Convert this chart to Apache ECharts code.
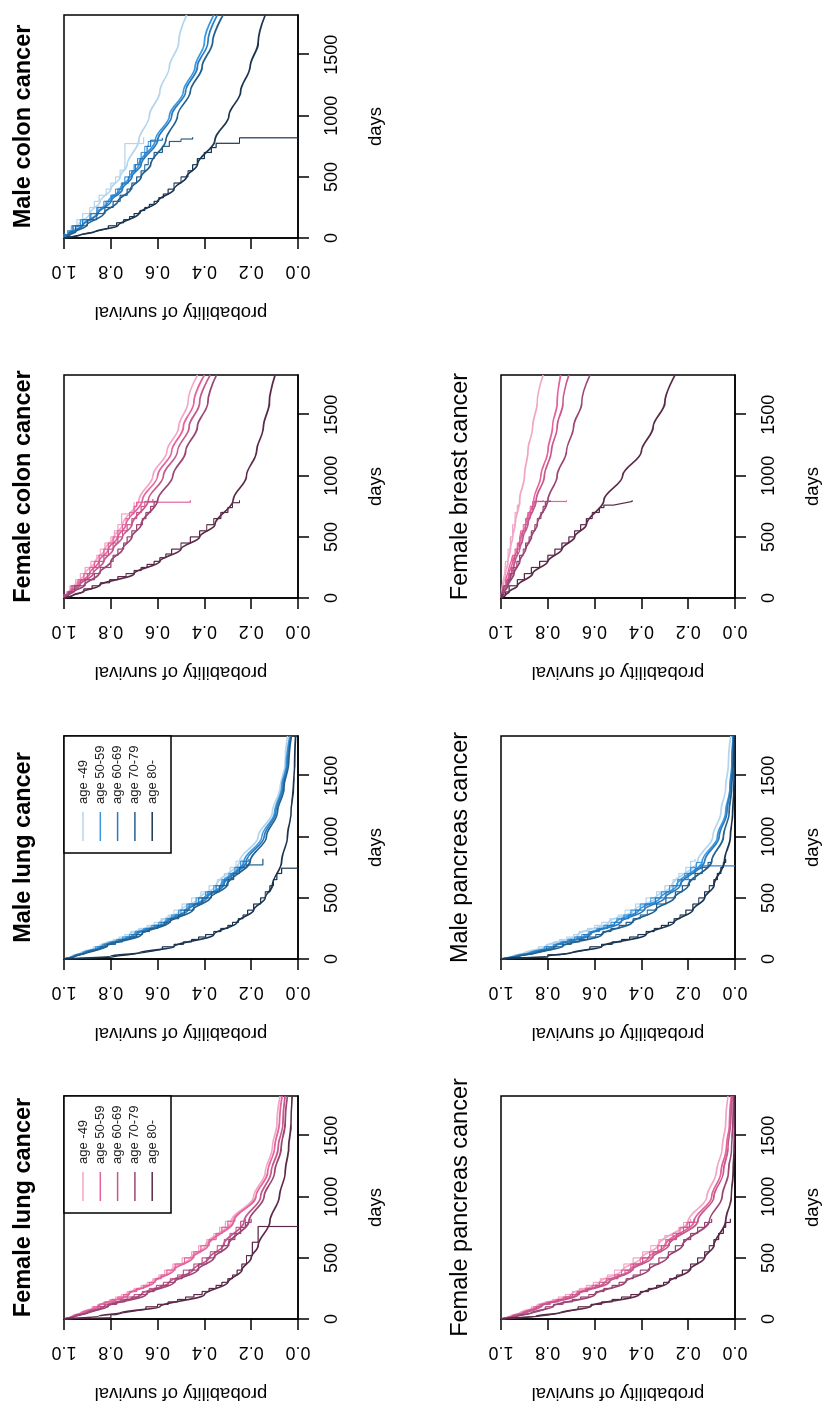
<!DOCTYPE html>
<html><head><meta charset="utf-8">
<script src="https://cdn.jsdelivr.net/npm/echarts@6.0.0/dist/echarts.min.js"></script>
<style>
html,body{margin:0;padding:0;background:#fff;overflow:hidden;width:825px;height:1408px;}
#wrap{position:absolute;left:0;top:0;width:1408px;height:825px;transform-origin:0 0;transform:translateY(1408px) rotate(-90deg);}
#chart{width:1408px;height:825px;background:#fff;}
</style></head><body>
<div id="wrap"><div id="chart"></div></div>
<script>
// ---------- data ----------
const AGE_LABELS = ['age -49','age 50-59','age 60-69','age 70-79','age 80-'];
const DAY_TICKS = [0, 500, 1000, 1500];
const DAYS_FIT = [0,25,50,100,200,300,400,500,600,800,1000,1200,1400,1600,1825];

// fitted survival curves (values at DAYS_FIT), one row per age group
const femaleLungFit = [
 [1,.965,.93,.86,.735,.625,.54,.46,.395,.285,.19,.14,.11,.09,.077],
 [1,.96,.925,.855,.725,.615,.53,.45,.385,.275,.18,.13,.10,.08,.068],
 [1,.955,.91,.83,.67,.55,.45,.38,.32,.23,.16,.115,.085,.065,.055],
 [1,.95,.90,.815,.65,.53,.43,.36,.30,.21,.145,.10,.072,.055,.045],
 [1,.85,.76,.59,.40,.30,.24,.20,.17,.12,.08,.055,.04,.03,.025]
];
const maleLungFit = [
 [1,.965,.93,.85,.72,.59,.50,.42,.35,.25,.17,.11,.077,.055,.045],
 [1,.96,.92,.84,.70,.57,.48,.40,.33,.23,.155,.10,.07,.05,.035],
 [1,.955,.915,.83,.69,.56,.47,.39,.32,.22,.145,.095,.065,.045,.03],
 [1,.95,.905,.82,.67,.55,.45,.375,.305,.205,.135,.088,.06,.04,.028],
 [1,.80,.68,.53,.36,.26,.19,.14,.11,.07,.045,.03,.02,.014,.01]
];
const femaleColonFit = [
 [1,.99,.98,.955,.91,.865,.825,.785,.75,.68,.62,.56,.51,.47,.43],
 [1,.99,.975,.945,.89,.85,.81,.77,.735,.665,.60,.54,.49,.445,.40],
 [1,.985,.97,.935,.875,.83,.79,.75,.71,.64,.575,.515,.465,.42,.375],
 [1,.98,.96,.915,.85,.80,.75,.71,.67,.60,.535,.48,.43,.385,.348],
 [1,.96,.92,.85,.70,.59,.50,.42,.355,.277,.22,.177,.148,.122,.098]
];
const maleColonFit = [
 [1,.985,.97,.94,.89,.845,.80,.76,.73,.68,.635,.59,.55,.51,.476],
 [1,.98,.96,.925,.86,.81,.76,.72,.68,.61,.55,.49,.44,.40,.36],
 [1,.98,.96,.92,.855,.80,.75,.71,.67,.60,.54,.48,.43,.385,.345],
 [1,.975,.95,.905,.83,.77,.715,.67,.63,.565,.515,.46,.41,.365,.32],
 [1,.93,.87,.77,.68,.60,.53,.476,.43,.355,.295,.245,.205,.17,.14]
];
const femalePancreasFit = [
 [1,.96,.92,.85,.70,.58,.48,.40,.33,.20,.12,.08,.055,.04,.03],
 [1,.95,.91,.84,.68,.555,.45,.37,.30,.175,.10,.06,.037,.024,.016],
 [1,.95,.90,.83,.67,.54,.44,.355,.285,.16,.09,.05,.03,.019,.012],
 [1,.93,.87,.78,.60,.47,.37,.29,.225,.11,.055,.028,.015,.009,.006],
 [1,.85,.75,.62,.41,.285,.195,.13,.09,.04,.016,.008,.004,.002,.001]
];
const malePancreasFit = [
 [1,.95,.90,.81,.67,.54,.43,.34,.27,.16,.095,.06,.04,.028,.018],
 [1,.94,.88,.78,.63,.51,.41,.32,.25,.14,.075,.04,.022,.013,.008],
 [1,.93,.87,.77,.62,.49,.39,.30,.235,.13,.068,.035,.02,.012,.007],
 [1,.92,.85,.74,.57,.44,.34,.26,.20,.10,.05,.025,.014,.008,.005],
 [1,.80,.70,.57,.38,.26,.18,.13,.09,.045,.02,.01,.005,.003,.002]
];
const femaleBreastFit = [
 [1,.998,.995,.99,.98,.97,.96,.95,.94,.92,.90,.885,.865,.845,.82],
 [1,.995,.99,.98,.965,.95,.93,.915,.895,.86,.83,.80,.78,.76,.745],
 [1,.995,.99,.975,.955,.94,.92,.905,.885,.85,.815,.785,.76,.735,.71],
 [1,.993,.985,.97,.945,.92,.895,.87,.845,.80,.76,.72,.69,.655,.62],
 [1,.98,.965,.93,.865,.80,.74,.685,.635,.56,.48,.40,.35,.30,.256]
];

// Kaplan-Meier step curves: [day, survival] pairs
const femaleLungKM = [
 [[0,1],[10,.982],[20,.968],[35,.945],[50,.925],[65,.90],[80,.88],[100,.855],[120,.83],[140,.805],[160,.78],[180,.755],[200,.73],[225,.70],[250,.67],[275,.645],[300,.62],[330,.595],[360,.57],[400,.535],[450,.495],[500,.455],[550,.425],[600,.39],[650,.36],[700,.335],[750,.31],[800,.285],[820,.285]],
 [[0,1],[10,.98],[20,.965],[35,.94],[50,.92],[65,.895],[80,.875],[100,.85],[120,.825],[140,.795],[160,.77],[180,.745],[200,.72],[225,.69],[250,.66],[275,.635],[300,.61],[330,.585],[360,.56],[400,.525],[450,.485],[500,.445],[550,.415],[600,.38],[650,.35],[700,.325],[750,.30],[800,.27],[820,.27]],
 [[0,1],[10,.978],[20,.96],[35,.93],[50,.905],[65,.88],[80,.855],[100,.825],[120,.79],[140,.76],[160,.73],[180,.70],[200,.665],[225,.635],[250,.605],[275,.575],[300,.545],[330,.515],[360,.49],[400,.445],[450,.41],[500,.375],[550,.345],[600,.315],[650,.29],[700,.265],[750,.245],[800,.225],[820,.225]],
 [[0,1],[10,.975],[20,.955],[35,.925],[50,.895],[65,.87],[80,.845],[100,.81],[120,.775],[140,.74],[160,.71],[180,.68],[200,.645],[225,.615],[250,.585],[275,.555],[300,.525],[330,.495],[360,.465],[400,.425],[450,.39],[500,.355],[550,.325],[600,.295],[650,.27],[700,.245],[750,.225],[790,.20],[820,.20]],
 [[0,1],[5,.95],[10,.80],[35,.78],[50,.75],[65,.70],[80,.65],[100,.60],[120,.555],[140,.515],[160,.48],[180,.445],[200,.41],[225,.38],[250,.35],[275,.325],[300,.30],[330,.28],[360,.26],[400,.24],[450,.22],[519,.195],[628,.17],[757,0]]
];
const maleLungKM = [
 [[0,1],[10,.982],[20,.968],[35,.945],[50,.925],[65,.90],[80,.875],[100,.845],[120,.815],[140,.79],[160,.765],[180,.74],[200,.715],[225,.68],[250,.645],[275,.615],[300,.585],[330,.555],[360,.53],[400,.495],[450,.455],[500,.415],[550,.38],[600,.345],[650,.315],[700,.29],[750,.265],[800,.24],[820,.24]],
 [[0,1],[10,.98],[20,.965],[35,.94],[50,.915],[65,.89],[80,.865],[100,.835],[120,.805],[140,.775],[160,.75],[180,.72],[200,.695],[225,.66],[250,.625],[275,.595],[300,.565],[330,.54],[360,.51],[400,.475],[450,.435],[500,.395],[550,.36],[600,.325],[650,.295],[700,.27],[750,.245],[800,.22],[820,.22]],
 [[0,1],[10,.978],[20,.96],[35,.935],[50,.91],[65,.88],[80,.855],[100,.825],[120,.795],[140,.765],[160,.735],[180,.71],[200,.685],[225,.65],[250,.615],[275,.585],[300,.555],[330,.525],[360,.50],[400,.465],[450,.425],[500,.385],[550,.35],[600,.315],[650,.285],[700,.26],[750,.235],[800,.21],[820,.21]],
 [[0,1],[10,.975],[20,.955],[35,.93],[50,.90],[65,.87],[80,.845],[100,.815],[120,.78],[140,.75],[160,.72],[180,.69],[200,.665],[225,.635],[250,.60],[275,.57],[300,.545],[330,.51],[360,.485],[400,.445],[450,.41],[500,.37],[550,.335],[600,.30],[650,.275],[700,.25],[750,.22],[770,.15],[820,.15]],
 [[0,1],[7,.90],[14,.80],[25,.77],[35,.72],[50,.67],[65,.62],[80,.58],[100,.53],[120,.49],[140,.455],[160,.425],[180,.395],[200,.36],[225,.33],[250,.30],[275,.28],[300,.255],[330,.235],[360,.215],[400,.19],[450,.16],[500,.14],[550,.12],[600,.105],[650,.09],[700,.07],[743,0]]
];
const femaleColonKM = [
 [[0,1],[25,.99],[50,.975],[100,.95],[150,.93],[200,.91],[250,.885],[300,.86],[350,.845],[400,.825],[450,.80],[500,.785],[550,.77],[600,.754],[688,.70],[784,.70]],
 [[0,1],[25,.985],[50,.97],[100,.94],[150,.915],[200,.89],[250,.87],[300,.85],[350,.83],[400,.81],[450,.79],[500,.77],[550,.75],[600,.735],[650,.72],[700,.70],[750,.69],[784,.46],[800,.46]],
 [[0,1],[25,.985],[50,.965],[100,.93],[150,.90],[200,.875],[250,.85],[300,.83],[350,.81],[400,.79],[450,.77],[500,.75],[550,.73],[600,.71],[650,.69],[700,.67],[750,.655],[790,.62],[810,.62]],
 [[0,1],[25,.98],[50,.955],[100,.91],[150,.87],[200,.845],[250,.80],[300,.79],[350,.77],[400,.745],[450,.73],[500,.71],[550,.69],[600,.665],[650,.65],[700,.63],[750,.615],[790,.60],[810,.60]],
 [[0,1],[10,.98],[20,.965],[35,.94],[50,.915],[75,.88],[100,.845],[125,.805],[150,.77],[175,.735],[200,.70],[225,.67],[250,.645],[275,.615],[300,.59],[330,.565],[360,.54],[400,.50],[450,.46],[500,.42],[550,.39],[600,.36],[650,.33],[700,.30],[740,.28],[780,.25],[800,.25]]
];
const maleColonKM = [
 [[0,1],[30,.985],[60,.97],[100,.945],[150,.92],[200,.89],[250,.87],[300,.85],[350,.82],[400,.80],[450,.78],[500,.76],[555,.74],[773,.66],[825,.66]],
 [[0,1],[25,.985],[60,.96],[100,.93],[150,.89],[200,.855],[250,.83],[300,.80],[350,.78],[400,.755],[450,.74],[500,.72],[550,.70],[600,.685],[650,.67],[700,.655],[750,.64],[790,.60],[820,.60]],
 [[0,1],[25,.98],[50,.965],[100,.92],[150,.885],[200,.86],[250,.82],[300,.795],[350,.77],[400,.75],[450,.725],[500,.71],[550,.695],[600,.675],[650,.655],[700,.645],[750,.63],[800,.58],[820,.58]],
 [[0,1],[25,.975],[50,.95],[100,.90],[150,.86],[200,.825],[250,.79],[300,.76],[350,.73],[400,.71],[450,.69],[500,.67],[550,.655],[600,.64],[650,.615],[700,.58],[750,.55],[790,.50],[810,.45],[825,.45]],
 [[0,1],[10,.97],[20,.945],[35,.91],[50,.87],[65,.84],[80,.81],[100,.775],[125,.745],[150,.72],[175,.70],[200,.675],[225,.655],[250,.635],[275,.615],[300,.595],[330,.575],[360,.555],[400,.53],[450,.50],[500,.47],[550,.45],[600,.43],[650,.40],[700,.37],[740,.35],[775,.25],[820,0]]
];
const femalePancreasKM = [
 [[0,1],[10,.982],[20,.965],[35,.94],[50,.915],[65,.89],[80,.87],[100,.845],[120,.81],[140,.78],[160,.755],[180,.725],[200,.695],[225,.665],[250,.635],[275,.605],[300,.575],[330,.545],[360,.515],[400,.475],[450,.435],[500,.395],[550,.36],[600,.325],[650,.30],[683,.24],[750,.22],[790,.19],[820,.19]],
 [[0,1],[10,.978],[20,.958],[35,.93],[50,.905],[65,.88],[80,.86],[100,.835],[120,.80],[140,.765],[160,.735],[180,.705],[200,.675],[225,.64],[250,.61],[275,.58],[300,.55],[330,.515],[360,.485],[400,.445],[450,.405],[500,.365],[550,.33],[600,.295],[650,.265],[700,.235],[750,.205],[792,.157],[820,.157]],
 [[0,1],[10,.978],[20,.955],[35,.925],[50,.895],[65,.87],[80,.85],[100,.825],[120,.79],[140,.755],[160,.725],[180,.695],[200,.665],[225,.63],[250,.595],[275,.565],[300,.535],[330,.50],[360,.47],[400,.435],[450,.395],[500,.35],[550,.315],[600,.28],[650,.25],[700,.22],[750,.195],[790,.175],[820,.175]],
 [[0,1],[10,.97],[20,.94],[35,.90],[50,.865],[65,.835],[80,.81],[100,.775],[120,.735],[140,.695],[160,.66],[180,.625],[200,.595],[225,.56],[250,.525],[275,.495],[300,.465],[330,.435],[360,.405],[400,.365],[450,.325],[500,.285],[550,.255],[600,.22],[650,.19],[700,.16],[750,.13],[790,.10],[820,.10]],
 [[0,1],[10,.95],[20,.85],[35,.79],[50,.745],[65,.71],[80,.67],[100,.615],[120,.57],[140,.525],[160,.485],[180,.445],[200,.405],[225,.37],[250,.335],[275,.305],[300,.28],[330,.25],[360,.225],[400,.19],[450,.16],[500,.13],[550,.11],[600,.09],[650,.07],[700,.05],[750,.04],[790,.02],[820,.02]]
];
const malePancreasKM = [
 [[0,1],[10,.98],[20,.958],[35,.925],[50,.895],[65,.865],[80,.84],[100,.805],[120,.775],[140,.75],[160,.72],[180,.69],[200,.665],[225,.63],[250,.60],[275,.57],[300,.535],[330,.50],[360,.47],[400,.425],[450,.38],[500,.335],[550,.30],[600,.265],[650,.24],[700,.21],[750,.19],[800,.17],[820,.17]],
 [[0,1],[10,.975],[20,.95],[35,.91],[50,.875],[65,.845],[80,.815],[100,.775],[120,.745],[140,.715],[160,.685],[180,.655],[200,.625],[225,.59],[250,.56],[275,.53],[300,.505],[330,.475],[360,.445],[400,.405],[450,.36],[500,.315],[550,.28],[600,.245],[650,.215],[700,.19],[750,.165],[790,.14],[820,.14]],
 [[0,1],[10,.97],[20,.94],[35,.90],[50,.865],[65,.835],[80,.805],[100,.765],[120,.735],[140,.705],[160,.675],[180,.645],[200,.615],[225,.58],[250,.545],[275,.515],[300,.485],[330,.455],[360,.425],[400,.385],[450,.34],[500,.295],[550,.265],[600,.23],[650,.20],[700,.17],[740,.14],[762,0]],
 [[0,1],[10,.965],[20,.935],[35,.89],[50,.845],[65,.81],[80,.775],[100,.735],[120,.70],[140,.665],[160,.63],[180,.595],[200,.565],[225,.53],[250,.495],[275,.465],[300,.435],[330,.405],[360,.375],[400,.335],[450,.295],[500,.255],[550,.225],[600,.195],[650,.17],[700,.14],[750,.115],[790,.10],[820,.10]],
 [[0,1],[10,.95],[15,.80],[35,.75],[50,.70],[65,.66],[80,.62],[100,.57],[120,.525],[140,.485],[160,.45],[180,.415],[200,.38],[225,.345],[250,.315],[275,.285],[300,.26],[330,.235],[360,.21],[400,.18],[450,.155],[500,.13],[550,.11],[600,.09],[650,.075],[700,.06],[750,.05],[790,.04],[820,.04]]
];
const femaleBreastKM = [
 [[0,1],[50,.995],[100,.99],[150,.985],[200,.98],[300,.97],[400,.96],[500,.95],[600,.94],[700,.93],[760,.92],[800,.92]],
 [[0,1],[25,.995],[50,.99],[100,.98],[150,.972],[200,.965],[250,.957],[300,.95],[350,.94],[400,.93],[450,.92],[500,.915],[550,.905],[600,.895],[650,.885],[700,.875],[750,.865],[790,.72],[800,.72]],
 [[0,1],[25,.995],[50,.99],[100,.975],[150,.965],[200,.955],[250,.945],[300,.94],[350,.93],[400,.92],[450,.91],[500,.905],[550,.895],[600,.885],[650,.875],[700,.865],[750,.855],[790,.82],[800,.82]],
 [[0,1],[25,.993],[50,.985],[100,.97],[150,.96],[200,.945],[250,.932],[300,.92],[350,.905],[400,.895],[450,.88],[500,.87],[550,.855],[600,.845],[650,.83],[700,.82],[750,.81],[790,.79],[800,.79]],
 [[0,1],[25,.98],[50,.965],[100,.93],[150,.90],[200,.87],[250,.835],[300,.80],[350,.77],[400,.74],[450,.71],[500,.685],[550,.66],[600,.635],[650,.61],[700,.58],[740,.56],[760,.52],[775,.48],[790,.44],[800,.44]]
];

// ---------- styles / layout ----------
const FEMALE_COLORS = ['#f2a6c6','#e5629c','#c5588c','#9a4574','#5a2a48'];
const MALE_COLORS   = ['#b4d5ee','#3c98de','#2a7cc2','#23608e','#1b3550'];
const FONT = "'Liberation Sans', Arial, Helvetica, sans-serif";

const PANELS = [
 {title:'Female lung cancer',     fit:femaleLungFit,     km:femaleLungKM,     colors:FEMALE_COLORS, legend:true},
 {title:'Male lung cancer',       fit:maleLungFit,       km:maleLungKM,       colors:MALE_COLORS,   legend:true},
 {title:'Female colon cancer',    fit:femaleColonFit,    km:femaleColonKM,    colors:FEMALE_COLORS, legend:false},
 {title:'Male colon cancer',      fit:maleColonFit,      km:maleColonKM,      colors:MALE_COLORS,   legend:false},
 {title:'Female pancreas cancer', fit:femalePancreasFit, km:femalePancreasKM, colors:FEMALE_COLORS, legend:false},
 {title:'Male pancreas cancer',   fit:malePancreasFit,   km:malePancreasKM,   colors:MALE_COLORS,   legend:false},
 {title:'Female breast cancer',   fit:femaleBreastFit,   km:femaleBreastKM,   colors:FEMALE_COLORS, legend:false}
];
const BOXES = [[89,64,'bold'],[449,64,'bold'],[810,64,'bold'],[1170,64,'bold'],[89,501,'normal'],[449,501,'normal'],[810,501,'normal']];
const W = 223, H = 234;

const chart = echarts.init(document.getElementById('chart'), null, {renderer:'canvas', width:1408, height:825});
const grids = [], xAxes = [], yAxes = [], series = [], graphics = [];

PANELS.forEach((p, i) => {
  const [left, top, weight] = BOXES[i];
  grids.push({left, top, width:W, height:H, show:true, borderColor:'#000', borderWidth:1.5, backgroundColor:'rgba(0,0,0,0)'});
  xAxes.push({
    type:'value', gridIndex:i, min:0, max:1825, position:'bottom',
    axisLine:{show:true, onZero:false, lineStyle:{color:'#000', width:1.5}},
    axisTick:{show:true, length:11, customValues:DAY_TICKS, lineStyle:{color:'#000', width:1.5}},
    axisLabel:{customValues:DAY_TICKS, fontSize:18, color:'#000', fontFamily:FONT, margin:25, formatter:v => String(v)},
    splitLine:{show:false}
  });
  yAxes.push({
    type:'value', gridIndex:i, min:0, max:1, interval:0.2, position:'left',
    axisLine:{show:true, onZero:false, lineStyle:{color:'#000', width:1.5}},
    axisTick:{show:true, length:11, lineStyle:{color:'#000', width:1.5}},
    axisLabel:{rotate:90, fontSize:18, color:'#000', fontFamily:FONT, margin:24, formatter:v => v.toFixed(1)},
    splitLine:{show:false}
  });
  for (let g = 0; g < 5; g++) {
    const c = p.colors[g];
    series.push({
      type:'line', name:AGE_LABELS[g], xAxisIndex:i, yAxisIndex:i, data:p.km[g],
      step:'end', showSymbol:false, symbol:'none', silent:true, animation:false,
      lineStyle:{color:c, width:1.2}, itemStyle:{color:c}
    });
    series.push({
      type:'line', name:AGE_LABELS[g], xAxisIndex:i, yAxisIndex:i,
      data:DAYS_FIT.map((d, k) => [d, p.fit[g][k]]),
      smooth:0.35, smoothMonotone:'x', showSymbol:false, symbol:'none', silent:true, animation:false,
      lineStyle:{color:c, width:1.7}, itemStyle:{color:c}
    });
  }
  graphics.push({type:'text', x:left + W/2, y:top - 40, style:{text:p.title, fill:'#000', font:`${weight} 23.5px ${FONT}`, align:'center', verticalAlign:'middle'}});
  graphics.push({type:'text', x:left + W/2, y:top + H + 78, style:{text:'days', fill:'#000', font:`18.5px ${FONT}`, align:'center', verticalAlign:'middle'}});
  graphics.push({type:'text', x:left - 74, y:top + H/2, rotation:Math.PI/2, style:{text:'probability of survival', fill:'#000', font:`18.5px ${FONT}`, align:'center', verticalAlign:'middle'}});
  if (p.legend) {
    const rx = left + W - 117;
    graphics.push({type:'rect', shape:{x:rx, y:top, width:117, height:107}, style:{fill:'#fff', stroke:'#000', lineWidth:1.5}, z:100});
    for (let g = 0; g < 5; g++) {
      const yy = top + 19 + g * 17.3;
      graphics.push({type:'line', shape:{x1:rx + 12, y1:yy, x2:rx + 41, y2:yy}, style:{stroke:p.colors[g], lineWidth:1.5}, z:101});
      graphics.push({type:'text', x:rx + 49, y:yy, z:101, style:{text:AGE_LABELS[g], fill:'#222', font:`13px ${FONT}`, align:'left', verticalAlign:'middle'}});
    }
  }
});

chart.setOption({
  animation:false,
  backgroundColor:'#fff',
  grid:grids, xAxis:xAxes, yAxis:yAxes, series:series, graphic:graphics
});
</script></body></html>
